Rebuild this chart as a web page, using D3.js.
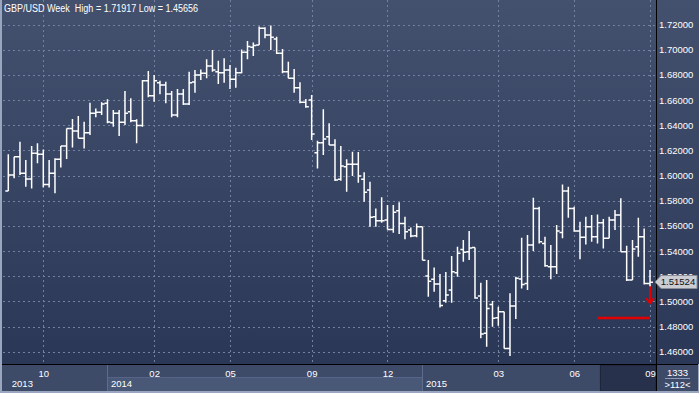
<!DOCTYPE html>
<html lang="en">
<head>
<meta charset="UTF-8">
<style>
  body { margin: 0; overflow: hidden; background: #2b3755; }
  svg { display: block; font-family: "Liberation Sans", Arial, sans-serif; }
  .grid line { stroke: #71819f; stroke-width: 1; stroke-dasharray: 2,3; }
  .bar { stroke: #ffffff; stroke-width: 1.5; fill: none; }
  .axis text { fill: #ffffff; font-size: 9.5px; }
</style>
<script src="https://d3js.org/d3.v7.min.js"></script>
</head>
<body>
<svg id="chart"></svg>
<script>
  const title = "GBP/USD Week  High = 1.71917 Low = 1.45656";

  // weekly OHLC
  const open = [
    1.5877,1.6004,1.6150,1.6018,1.5973,1.6177,1.6169,1.5930,1.6018,1.6129,
    1.6235,1.6375,1.6354,1.6296,1.6341,1.6495,1.6503,1.6574,1.6420,1.6495,
    1.6423,1.6508,1.6436,1.6397,1.6754,1.6635,1.6738,
    1.6720,1.6648,1.6481,1.6648,1.6569,1.6744,1.6799,1.6813,1.6871,1.6826,
    1.6818,1.6839,1.6765,1.6818,1.6980,1.7019,1.7038,1.7170,1.7117,1.7086,
    1.6972,1.6826,1.6773,1.6699,1.6582,1.6601,1.6182,1.6261,
    1.6309,1.6243,1.5970,1.6071,1.6089,1.6089,1.5970,1.5885,1.5673,1.5641,
    1.5647,1.5572,1.5721,1.5620,1.5567,1.5522,1.5594,1.5202,1.5175,1.5138,
    1.5005,1.5090,1.5228,1.5413,1.5395,1.5429,1.5042,1.4746,1.4976,
    1.4870,1.4918,1.4626,1.4963,1.5178,1.5143,1.5448,1.5739,1.5461,1.5276,
    1.5276,1.5548,1.5877,1.5739,1.5559,1.5509,1.5594,1.5514,1.5625,1.5501,
    1.5647,1.5686,1.5395,1.5170,1.5435,1.5514,1.5143
  ];
  const high = [
    1.6169,1.6150,1.6269,1.6124,1.6235,1.6256,1.6208,1.6124,1.6137,1.6235,
    1.6375,1.6450,1.6473,1.6428,1.6579,1.6534,1.6582,1.6606,1.6521,1.6521,
    1.6672,1.6614,1.6447,1.6760,1.6831,1.6799,1.6754,
    1.6746,1.6672,1.6688,1.6688,1.6826,1.6839,1.6844,1.6924,1.6998,1.6913,
    1.6932,1.6879,1.6858,1.7003,1.7070,1.7057,1.7184,1.7178,1.7192,1.7104,
    1.7006,1.6905,1.6847,1.6741,1.6609,1.6640,1.6277,1.6527,
    1.6415,1.6288,1.6235,1.6129,1.6190,1.6187,1.6026,1.5951,1.5739,1.5827,
    1.5766,1.5766,1.5787,1.5673,1.5588,1.5620,1.5594,1.5329,1.5270,1.5217,
    1.5233,1.5360,1.5435,1.5488,1.5559,1.5429,1.5148,1.5170,1.5003,
    1.4958,1.4918,1.5064,1.5196,1.5506,1.5527,1.5824,1.5753,1.5514,1.5448,
    1.5607,1.5930,1.5912,1.5753,1.5633,1.5673,1.5686,1.5691,1.5654,1.5673,
    1.5726,1.5819,1.5443,1.5488,1.5665,1.5580,1.5249
  ];
  const low = [
    1.5877,1.5978,1.6004,1.5912,1.5898,1.6097,1.5906,1.5906,1.5859,1.6065,
    1.6132,1.6224,1.6296,1.6216,1.6322,1.6463,1.6481,1.6415,1.6389,1.6314,
    1.6402,1.6423,1.6256,1.6389,1.6622,1.6587,1.6646,
    1.6574,1.6463,1.6463,1.6561,1.6561,1.6659,1.6760,1.6773,1.6826,1.6728,
    1.6738,1.6688,1.6699,1.6813,1.6924,1.6950,1.7038,1.7091,1.6998,1.6966,
    1.6813,1.6773,1.6659,1.6574,1.6540,1.6283,1.6057,1.6163,
    1.6243,1.5957,1.5959,1.5872,1.5996,1.5943,1.5792,1.5594,1.5594,1.5625,
    1.5572,1.5546,1.5535,1.5493,1.5509,1.5509,1.5326,1.5037,1.5077,1.4952,
    1.4989,1.4989,1.5196,1.5315,1.5329,1.5021,1.4706,1.4640,1.4799,
    1.4806,1.4626,1.4566,1.4860,1.5103,1.5090,1.5400,1.5461,1.5276,1.5175,
    1.5217,1.5501,1.5665,1.5554,1.5334,1.5453,1.5474,1.5461,1.5421,1.5501,
    1.5567,1.5395,1.5162,1.5170,1.5355,1.5135,1.5090
  ];
  const close = [
    1.6004,1.6150,1.6018,1.5973,1.6177,1.6169,1.5930,1.6018,1.6129,1.6235,
    1.6375,1.6354,1.6296,1.6341,1.6495,1.6503,1.6569,1.6426,1.6495,1.6423,
    1.6495,1.6436,1.6397,1.6754,1.6635,1.6754,1.6720,
    1.6648,1.6481,1.6648,1.6569,1.6738,1.6799,1.6813,1.6871,1.6839,1.6818,
    1.6839,1.6765,1.6818,1.6980,1.7025,1.7033,1.7170,1.7117,1.7099,1.6972,
    1.6826,1.6773,1.6699,1.6582,1.6548,1.6330,1.6261,1.6291,
    1.6243,1.5965,1.6076,1.6089,1.6089,1.5996,1.5867,1.5668,1.5641,1.5641,
    1.5572,1.5708,1.5620,1.5554,1.5519,1.5594,1.5326,1.5159,1.5138,1.4968,
    1.5050,1.5236,1.5382,1.5390,1.5424,1.5026,1.4740,1.4944,1.4865,
    1.4918,1.4626,1.4963,1.5183,1.5135,1.5448,1.5739,1.5474,1.5283,1.5276,
    1.5559,1.5877,1.5739,1.5559,1.5509,1.5594,1.5514,1.5625,1.5501,1.5647,
    1.5686,1.5395,1.5170,1.5416,1.5514,1.5143,1.51524
  ];

  const yTickValues = [1.46,1.48,1.50,1.52,1.54,1.56,1.58,1.60,1.62,1.64,1.66,1.68,1.70,1.72];
  const monthTickIndex = [6, 25, 38, 52, 65, 84, 97, 110];
  const monthTickLabel = ["10", "02", "05", "09", "12", "03", "06", "09"];
  const yearStartIndex = [0, 17, 71];
  const yearLabel = ["2013", "2014", "2015"];
  const lastPrice = 1.51524;
  const targetLevel = 1.4867;
  const targetFromIndex = 101;
  const selectionFromIndex = 101.5;
  const barTotal = "1333";
  const barsShown = ">112<";

  const W = 699, H = 393;
  const plotLeft = 3, plotRight = 656, plotBottom = 364, axisBottom = 391;

  const svg = d3.select("#chart").attr("width", W).attr("height", H);

  const defs = svg.append("defs");
  const grad = defs.append("linearGradient").attr("id", "bg")
    .attr("x1", 0).attr("y1", 0).attr("x2", 0).attr("y2", 1);
  grad.append("stop").attr("offset", "0%").attr("stop-color", "#43516f");
  grad.append("stop").attr("offset", "100%").attr("stop-color", "#2b3756");

  svg.append("rect").attr("width", W).attr("height", plotBottom).attr("fill", "url(#bg)");

  const n = close.length;
  const x = d3.scaleLinear().domain([0, n - 1]).range([8.3, 650]);
  const y = d3.scaleLinear().domain([1.46, 1.72]).range([351.7, 24.6]);

  // grid
  const grid = svg.append("g").attr("class", "grid");
  grid.selectAll("line.h").data(yTickValues).join("line").attr("class", "h")
    .attr("x1", plotLeft).attr("x2", plotRight)
    .attr("y1", d => Math.round(y(d)) + 0.5).attr("y2", d => Math.round(y(d)) + 0.5);
  grid.selectAll("line.v").data(monthTickIndex).join("line").attr("class", "v")
    .attr("x1", d => Math.round(x(d)) + 0.5).attr("x2", d => Math.round(x(d)) + 0.5)
    .attr("y1", 0).attr("y2", plotBottom);

  // title
  svg.append("text").attr("x", 4).attr("y", 12)
    .attr("fill", "#ffffff").attr("font-size", "10px")
    .attr("textLength", 194).attr("lengthAdjust", "spacingAndGlyphs")
    .style("white-space", "pre").attr("xml:space", "preserve")
    .text(title);

  // OHLC bars
  const tick = 3;
  svg.append("g").selectAll("path").data(d3.range(n)).join("path")
    .attr("class", "bar")
    .attr("d", i => {
      const cx = x(i);
      return `M${cx},${y(high[i])}V${y(low[i])}` +
        `M${cx - tick},${y(open[i])}H${cx}` +
        `M${cx},${y(close[i])}H${cx + tick}`;
    });

  // target line and arrow
  svg.append("line")
    .attr("x1", x(targetFromIndex)).attr("x2", x(n - 1))
    .attr("y1", y(targetLevel)).attr("y2", y(targetLevel))
    .attr("stroke", "#e40000").attr("stroke-width", 2.5);
  const ax = x(n - 1);
  const ay = y(lastPrice);
  svg.append("path")
    .attr("d", `M${ax},${ay + 4}V${ay + 21}M${ax - 4},${ay + 16}L${ax},${ay + 21}L${ax + 4},${ay + 16}`)
    .attr("stroke", "#e40000").attr("stroke-width", 2).attr("fill", "none");

  // right axis
  const yAxis = d3.axisRight(y).tickValues(yTickValues)
    .tickFormat(d3.format(".5f")).tickSize(0).tickPadding(3);
  svg.append("g").attr("class", "axis").attr("transform", `translate(${plotRight},0)`)
    .call(yAxis).call(g => g.select(".domain").remove());

  // bottom axis area
  svg.append("rect").attr("x", 0).attr("y", plotBottom).attr("width", W).attr("height", H - plotBottom)
    .attr("fill", "#3d4a68");
  const yearEnd = yearStartIndex.slice(1).map(i => x(i)).concat([plotRight]);
  yearStartIndex.forEach((s, k) => {
    const x0 = k === 0 ? plotLeft : x(s);
    if (k % 2 === 1) {
      svg.append("rect").attr("x", x0).attr("y", 378).attr("width", yearEnd[k] - x0).attr("height", axisBottom - 378)
        .attr("fill", "#4a5877");
      svg.append("line").attr("x1", x0).attr("x2", yearEnd[k]).attr("y1", 377.5).attr("y2", 377.5)
        .attr("stroke", "#56648a");
    }
    if (k > 0) {
      svg.append("line").attr("x1", Math.round(x0) + 0.5).attr("x2", Math.round(x0) + 0.5)
        .attr("y1", plotBottom).attr("y2", axisBottom).attr("stroke", "#5d6b8d");
    }
    svg.append("text").attr("x", x(s) + 3.5).attr("y", 387)
      .attr("fill", "#ffffff").attr("font-size", "9.5px").text(yearLabel[k]);
  });

  // selected region box
  const selX = x(selectionFromIndex);
  svg.append("rect").attr("x", selX).attr("y", plotBottom + 1).attr("width", plotRight - selX).attr("height", axisBottom - plotBottom - 1)
    .attr("fill", "#27314b").attr("stroke", "#1d2538");

  const xAxis = d3.axisBottom(x).tickValues(monthTickIndex)
    .tickFormat((d, k) => monthTickLabel[k]).tickSize(0).tickPadding(6);
  svg.append("g").attr("class", "axis").attr("transform", `translate(0,${plotBottom})`)
    .call(xAxis).call(g => g.select(".domain").remove())
    .selectAll("text").attr("fill", d => d >= selectionFromIndex ? "#5c6a89" : "#ffffff");

  // frame lines
  svg.append("line").attr("x1", 0).attr("x2", W).attr("y1", plotBottom + 0.5).attr("y2", plotBottom + 0.5)
    .attr("stroke", "#000000");
  svg.append("line").attr("x1", plotRight + 0.5).attr("x2", plotRight + 0.5).attr("y1", 0).attr("y2", axisBottom)
    .attr("stroke", "#000000");
  svg.append("rect").attr("x", 0).attr("y", 0).attr("width", 2).attr("height", H).attr("fill", "#9aa6bd");
  svg.append("rect").attr("x", 0).attr("y", axisBottom).attr("width", W).attr("height", H - axisBottom).attr("fill", "#9aa6bd");
  svg.append("rect").attr("x", W - 1).attr("y", plotBottom).attr("width", 1).attr("height", H - plotBottom).attr("fill", "#9aa6bd");

  // bar counter box
  svg.append("text").attr("x", 677.5).attr("y", 375.5).attr("text-anchor", "middle")
    .attr("fill", "#ffffff").attr("font-size", "9.5px").text(barTotal);
  svg.append("line").attr("x1", 665).attr("x2", 690).attr("y1", 378.5).attr("y2", 378.5).attr("stroke", "#8d9bb8");
  svg.append("text").attr("x", 677.5).attr("y", 388).attr("text-anchor", "middle")
    .attr("fill", "#ffffff").attr("font-size", "9.5px").text(barsShown);

  // last price tag, drawn over the 1.52 tick label as in the original
  const ly = Math.round(y(lastPrice));
  svg.append("path")
    .attr("d", `M${plotRight - 1},${ly}L${plotRight + 5},${ly - 6.5}H697V${ly + 6.5}H${plotRight + 5}Z`)
    .attr("fill", "#cbcdd2").attr("stroke", "#8a8e97");
  svg.append("text").attr("x", 678).attr("y", ly).attr("dy", "0.35em").attr("text-anchor", "middle")
    .attr("fill", "#111111").attr("font-size", "9.5px").text(d3.format(".5f")(lastPrice));
</script>
</body>
</html>
